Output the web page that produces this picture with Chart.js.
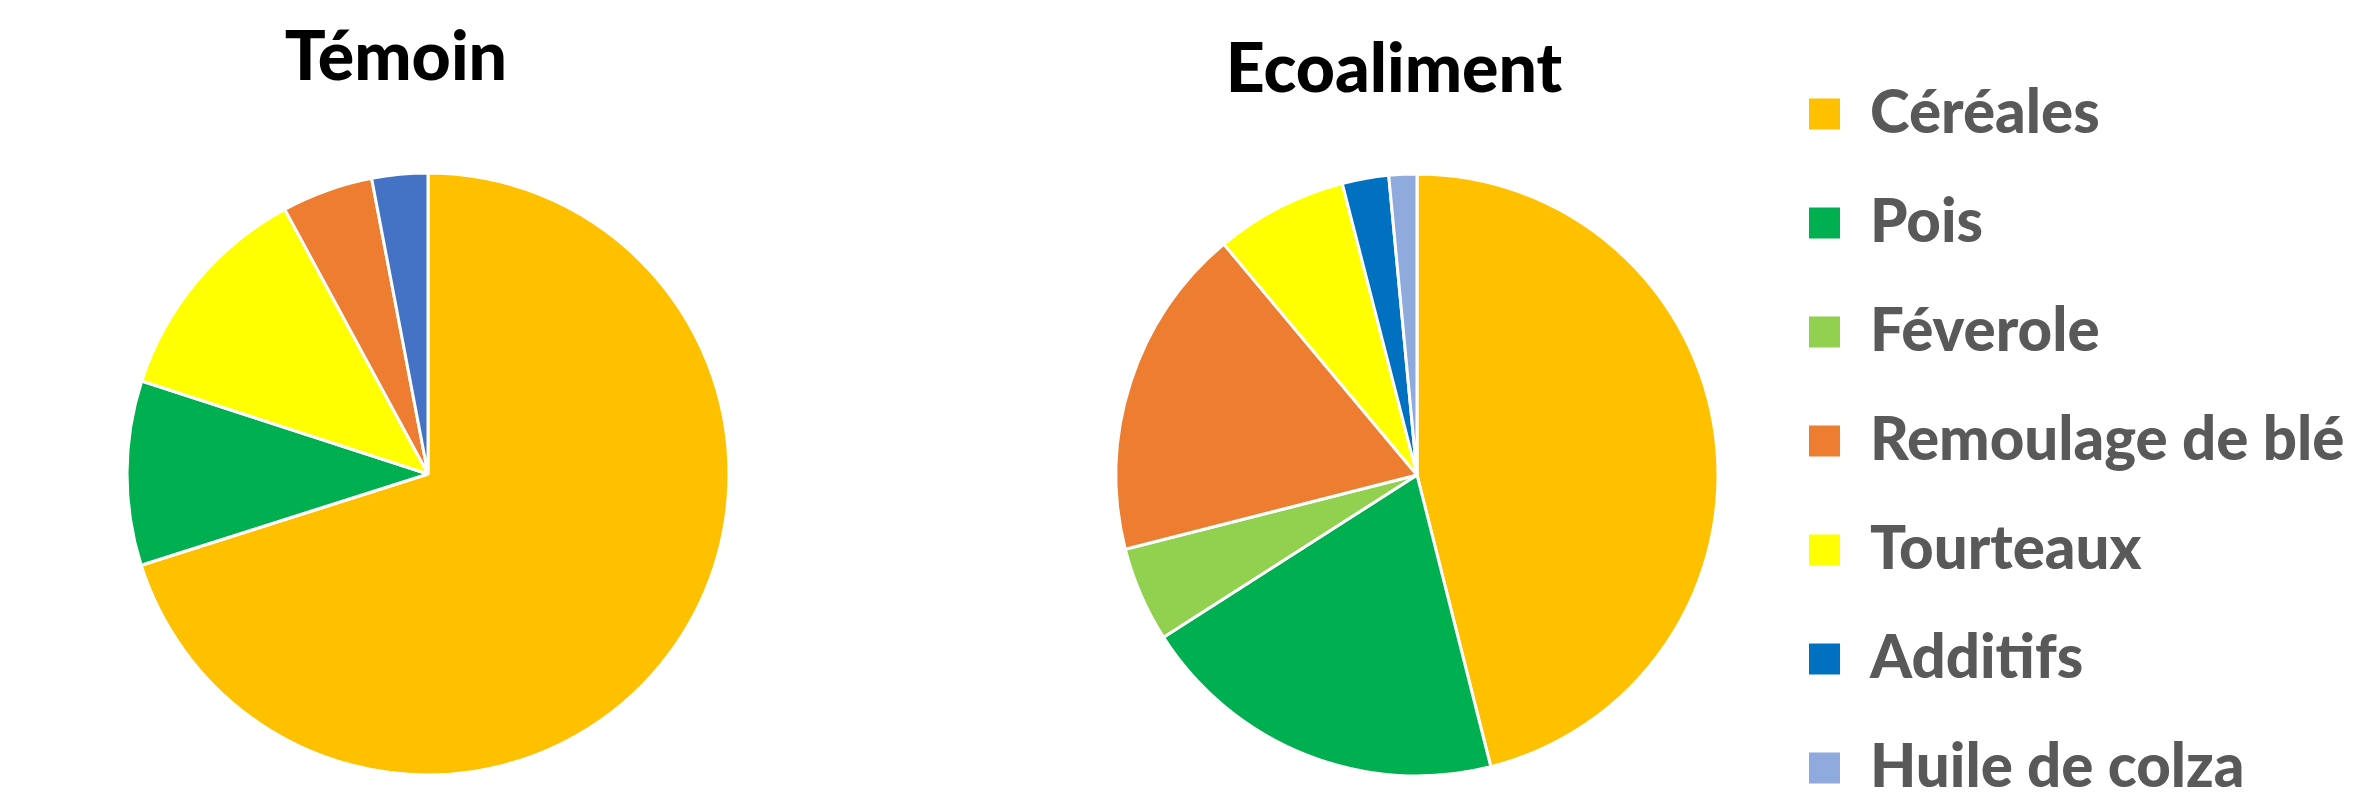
<!DOCTYPE html>
<html>
<head>
<meta charset="utf-8">
<script src="https://cdn.jsdelivr.net/npm/chart.js@4.4.1/dist/chart.umd.min.js"></script>
<style>
  body { margin: 0; width: 2365px; height: 798px; overflow: hidden; background: #fff; }
  .titre { position: absolute; font-family: Lato, sans-serif; font-weight: 900; font-size: 68px; line-height: 68px; color: #000; white-space: nowrap; transform: translateX(-50%); }
  canvas { position: absolute; top: 0; }
</style>
</head>
<body>
<div class="titre" id="titreTemoin" style="left:396px; top:20px;">Témoin</div>
<div class="titre" id="titreEco" style="left:1394px; top:32px;">Ecoaliment</div>
<canvas id="chartTemoin" width="856" height="948" style="left:0px;"></canvas>
<canvas id="chartEco" width="1291" height="915" style="left:1074px;"></canvas>
<script>
// Données - ration témoin (%)
const temoinLabels = ['Céréales', 'Pois', 'Tourteaux', 'Remoulage de blé', 'Additifs'];
const temoinValues = [70.1, 9.9, 12.1, 4.9, 3.0];
const temoinColors = ['#FFC000', '#00B050', '#FFFF00', '#ED7D31', '#4472C4'];

// Données - ration Ecoaliment (%)
const ecoLabels = ['Céréales', 'Pois', 'Féverole', 'Remoulage de blé', 'Tourteaux', 'Additifs', 'Huile de colza'];
const ecoValues = [46.1, 19.9, 5.1, 17.9, 7.1, 2.5, 1.5];
const ecoColors = ['#FFC000', '#00B050', '#92D050', '#ED7D31', '#FFFF00', '#0070C0', '#8FAADC'];

const legendFont = { family: 'Lato, sans-serif', weight: '900', size: 60 };
const legendBox = 31;
const legendPad = 49;
const legendLeft = 1760;   // bord gauche de la légende (px page)

// largeur de la légende pour caler le camembert au bon endroit
function legendRightPadding() {
    const ctx = document.createElement('canvas').getContext('2d');
    ctx.font = legendFont.weight + ' ' + legendFont.size + 'px ' + legendFont.family;
    const textW = Math.max(...ecoLabels.map(l => ctx.measureText(l).width));
    const legendW = legendPad + legendBox + legendFont.size / 2 + textW + 10;
    return Math.max(0, 2365 - legendLeft - legendW);
}

const commonDataset = {
    borderColor: '#FFFFFF',
    borderWidth: 3
};

let temoinChart, ecoChart;

document.addEventListener('DOMContentLoaded', () => {
    temoinChart = new Chart(document.getElementById('chartTemoin'), {
        type: 'pie',
        data: {
            labels: temoinLabels,
            datasets: [{
                ...commonDataset,
                data: temoinValues,
                backgroundColor: temoinColors
            }]
        },
        options: {
            responsive: false,
            animation: false,
            devicePixelRatio: 1,
            radius: 301,
            layout: { padding: 0 },
            plugins: {
                legend: { display: false },
                tooltip: { enabled: false }
            }
        }
    });

    ecoChart = new Chart(document.getElementById('chartEco'), {
        type: 'pie',
        data: {
            labels: ecoLabels,
            datasets: [{
                ...commonDataset,
                data: ecoValues,
                backgroundColor: ecoColors
            }]
        },
        options: {
            responsive: false,
            animation: false,
            devicePixelRatio: 1,
            radius: 301,
            layout: { padding: { top: 35, bottom: 0, left: 0, right: legendRightPadding() } },
            plugins: {
                legend: {
                    display: true,
                    position: 'right',
                    align: 'start',
                    maxWidth: 2365 - legendLeft,
                    labels: {
                        color: '#595959',
                        font: legendFont,
                        boxWidth: legendBox,
                        boxHeight: legendBox,
                        padding: legendPad,
                        generateLabels: (chart) => {
                            const ds = chart.data.datasets[0];
                            return chart.data.labels.map((label, i) => ({
                                text: label,
                                fillStyle: ds.backgroundColor[i],
                                strokeStyle: ds.backgroundColor[i],
                                lineWidth: 0,
                                fontColor: '#595959',
                                hidden: false,
                                index: i
                            }));
                        }
                    }
                },
                tooltip: { enabled: false }
            }
        }
    });
});
</script>
</body>
</html>
